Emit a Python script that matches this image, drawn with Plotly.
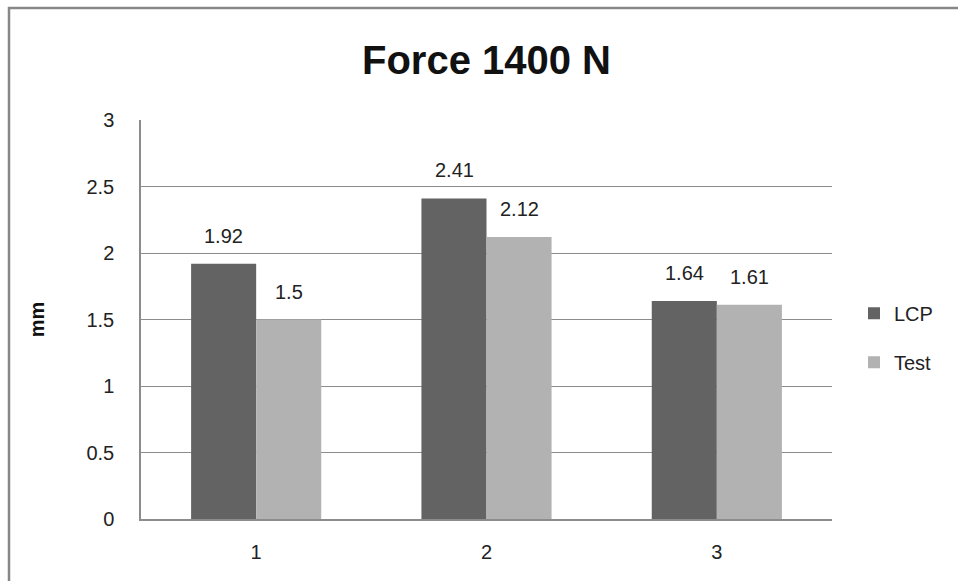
import plotly.graph_objects as go

categories = ["1", "2", "3"]
lcp_values = [1.92, 2.41, 1.64]
test_values = [1.5, 2.12, 1.61]
series_names = ["LCP", "Test"]
y_ticks = [0, 0.5, 1, 1.5, 2, 2.5, 3]

FONT = "Liberation Sans, Arial, sans-serif"
dark = "#636363"
light = "#b2b2b2"

fig = go.Figure()
fig.add_trace(go.Bar(x=categories, y=lcp_values, name=series_names[0], legendgroup="a",
                     marker=dict(color=dark, line=dict(width=0))))
fig.add_trace(go.Bar(x=categories, y=test_values, name=series_names[1], legendgroup="b",
                     marker=dict(color=light, line=dict(width=0))))

annotations = []
for vals, shift in ((lcp_values, -32.5), (test_values, 32.5)):
    for i, v in enumerate(vals):
        annotations.append(dict(x=i, y=v, xref="x", yref="y", text=f"{v:g}",
                                showarrow=False, yanchor="bottom", xshift=shift,
                                yshift=15, font=dict(size=20, color="#222", family=FONT)))

fig.update_layout(
    width=958, height=581,
    margin=dict(l=141, r=126, t=120, b=62),
    paper_bgcolor="white", plot_bgcolor="white",
    barmode="group", bargap=0.435, bargroupgap=0,
    font=dict(family=FONT, size=20, color="#222"),
    title=dict(text="<b>Force 1400 N</b>", x=0.5, xref="paper", xanchor="center",
               y=1 - 60 / 581, yanchor="middle", font=dict(size=40, color="#111", family=FONT)),
    showlegend=True,
    legend=dict(x=1 + (854 - 832) / 691, xref="paper", y=0.454, xanchor="left", yanchor="middle",
                font=dict(size=20, color="#222"), itemwidth=30, tracegroupgap=20,
                traceorder="grouped", bgcolor="rgba(0,0,0,0)"),
    annotations=annotations,
    shapes=[dict(type="rect", xref="paper", yref="paper",
                 x0=(9 - 141) / 691, x1=2, y0=-1, y1=(519 - 8) / 399,
                 line=dict(color="#878787", width=2.5), fillcolor="rgba(0,0,0,0)", layer="below")],
)
fig.update_xaxes(type="category", range=[-0.5, 2.5], showgrid=False, showline=True,
                 linecolor="#8c8c8c", linewidth=1.5, ticks="", ticklabelstandoff=14,
                 tickfont=dict(size=20, color="#222"))
fig.update_yaxes(range=[0, 3], tickvals=y_ticks, ticktext=[f"{t:g}" for t in y_ticks],
                 showgrid=True, gridcolor="#8c8c8c", gridwidth=1.2,
                 showline=True, linecolor="#8c8c8c", linewidth=1.5, ticks="",
                 ticklabelstandoff=21, tickfont=dict(size=20, color="#222"),
                 zeroline=False,
                 title=dict(text="<b>mm</b>", font=dict(size=20, color="#111"), standoff=36))

fig.write_html("out.html", config={"displayModeBar": False},
               post_script="document.body.style.margin='0';")
